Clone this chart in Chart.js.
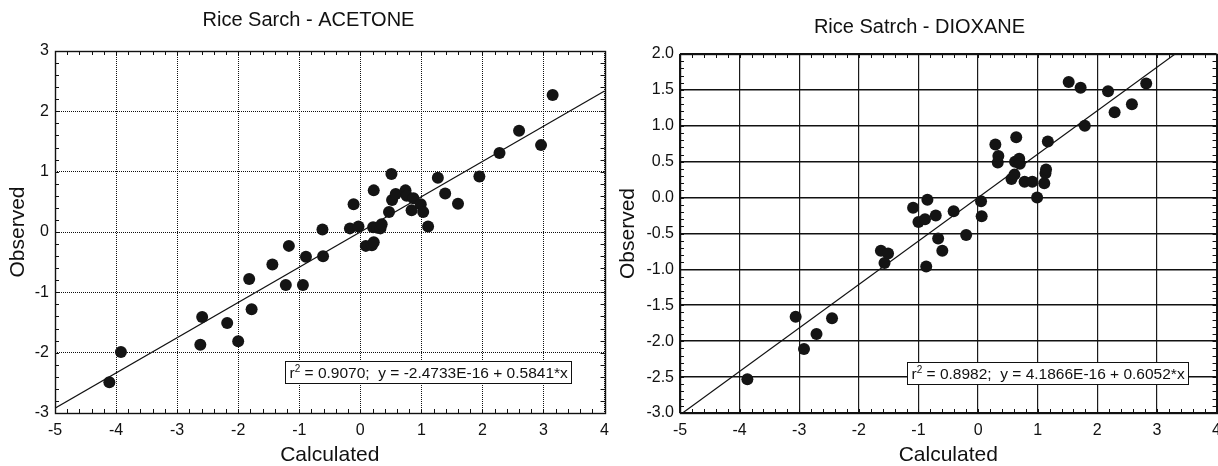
<!DOCTYPE html>
<html><head><meta charset="utf-8">
<script src="https://cdn.jsdelivr.net/npm/chart.js@4.4.1/dist/chart.umd.min.js"></script>
<style>
html,body{margin:0;padding:0;background:#fff;overflow:hidden;width:1218px;height:466px;}
#c1{position:absolute;left:0;top:0;}
#c2{position:absolute;left:610px;top:0;}
</style></head><body>
<canvas id="c1" width="617" height="466"></canvas>
<canvas id="c2" width="619" height="466"></canvas>
<script>
// ---------- Data: ACETONE ----------
const acetoneTitle = 'Rice Sarch - ACETONE';
const acetoneCalc = [-4.11,-3.92,-2.62,-2.59,-2.18,-2.00,-1.82,-1.78,-1.44,-1.22,-1.17,-0.94,-0.89,-0.62,-0.61,
  -0.17,-0.11,-0.03,0.09,0.19,0.22,0.21,0.22,0.28,0.33,0.35,0.47,0.51,0.52,0.58,0.74,0.76,0.84,0.87,0.99,1.03,1.11,
  1.27,1.39,1.60,1.95,2.28,2.60,2.96,3.15];
const acetoneObs = [-2.49,-1.99,-1.87,-1.41,-1.51,-1.81,-0.78,-1.28,-0.54,-0.88,-0.23,-0.88,-0.41,0.04,-0.40,
  0.06,0.46,0.09,-0.23,-0.22,-0.17,0.08,0.69,0.07,0.06,0.13,0.33,0.96,0.53,0.63,0.69,0.60,0.36,0.56,0.46,0.33,0.09,
  0.90,0.64,0.47,0.92,1.31,1.68,1.44,2.27];
const acetoneFitX = [-5, 4];
const acetoneFitY = [-2.9205, 2.3364];
const acetoneNote = ['r', '2', ' = 0.9070;  y = -2.4733E-16 + 0.5841*x'];
const acetoneXTicks = [-5,-4,-3,-2,-1,0,1,2,3,4];
const acetoneYTicks = [-3,-2,-1,0,1,2,3];
const acetoneYLabels = ['-3','-2','-1','0','1','2','3'];

// ---------- Data: DIOXANE ----------
const dioxaneTitle = 'Rice Satrch - DIOXANE';
const dioxaneCalc = [-3.87,-3.06,-2.92,-2.71,-2.45,-1.63,-1.57,-1.51,-1.09,-1.00,-0.89,-0.85,-0.87,-0.71,-0.67,-0.60,
  -0.41,-0.20,0.05,0.06,0.29,0.34,0.33,0.56,0.61,0.64,0.62,0.69,0.70,0.78,0.91,0.99,1.11,1.13,1.14,1.17,
  1.52,1.72,1.79,2.18,2.29,2.58,2.82];
const dioxaneObs = [-2.53,-1.66,-2.11,-1.90,-1.68,-0.74,-0.91,-0.78,-0.14,-0.34,-0.30,-0.03,-0.96,-0.25,-0.57,-0.74,
  -0.19,-0.52,-0.05,-0.26,0.74,0.58,0.49,0.26,0.32,0.84,0.50,0.54,0.47,0.22,0.22,0.00,0.20,0.34,0.39,0.78,
  1.61,1.53,1.00,1.48,1.19,1.30,1.59];
const dioxaneFitX = [-5, 4];
const dioxaneFitY = [-3.026, 2.4208];
const dioxaneNote = ['r', '2', ' = 0.8982;  y = 4.1866E-16 + 0.6052*x'];
const dioxaneXTicks = [-5,-4,-3,-2,-1,0,1,2,3,4];
const dioxaneYTicks = [-3,-2.5,-2,-1.5,-1,-0.5,0,0.5,1,1.5,2];
const dioxaneYLabels = ['-3.0','-2.5','-2.0','-1.5','-1.0','-0.5','0.0','0.5','1.0','1.5','2.0'];

const FONT = "'Liberation Sans', Arial, Helvetica, sans-serif";

const decorPlugin = {
  id: 'decor',
  afterDraw(chart) {
    const o = chart.options.plugins.decor;
    const {ctx, chartArea: a} = chart;
    const xs = chart.scales.x, ys = chart.scales.y;
    ctx.save();
    ctx.strokeStyle = '#111';
    ctx.lineWidth = 1;
    ctx.beginPath();
    const nx = Math.round((xs.max - xs.min) / o.minorX);
    for (let i = 0; i <= nx; i++) {
      const px = Math.round(xs.getPixelForValue(xs.min + i * o.minorX)) + 0.5;
      ctx.moveTo(px, a.bottom); ctx.lineTo(px, a.bottom - 4);
      ctx.moveTo(px, a.top); ctx.lineTo(px, a.top + 4);
    }
    const ny = Math.round((ys.max - ys.min) / o.minorY);
    for (let i = 0; i <= ny; i++) {
      const py = Math.round(ys.getPixelForValue(ys.min + i * o.minorY)) + 0.5;
      ctx.moveTo(a.left, py); ctx.lineTo(a.left + 4, py);
      ctx.moveTo(a.right, py); ctx.lineTo(a.right - 4, py);
    }
    ctx.stroke();
    ctx.lineWidth = 1.4;
    ctx.strokeStyle = '#111';
    ctx.strokeRect(Math.round(a.left) + 0.5, Math.round(a.top) + 0.5, Math.round(a.right - a.left), Math.round(a.bottom - a.top));
    const note = o.note;
    const f1 = '15.5px ' + FONT, f2 = '10px ' + FONT;
    ctx.font = f1; const w0 = ctx.measureText(note[0]).width; const w2 = ctx.measureText(note[2]).width;
    ctx.font = f2; const w1 = ctx.measureText(note[1]).width;
    const padX = 4, h = o.boxH;
    const bw = Math.round(w0 + w1 + w2 + padX * 2);
    const bx = Math.round(a.right - o.boxRight - bw) + 0.5;
    const by = Math.round(a.bottom - o.boxBottom - h) + 0.5;
    ctx.fillStyle = '#fff';
    ctx.fillRect(bx, by, bw, h);
    ctx.lineWidth = 1;
    ctx.strokeStyle = '#111';
    ctx.strokeRect(bx, by, bw, h);
    ctx.fillStyle = '#111';
    ctx.textBaseline = 'alphabetic';
    const base = by + h / 2 + 5.5;
    ctx.font = f1; ctx.fillText(note[0], bx + padX, base);
    ctx.font = f2; ctx.fillText(note[1], bx + padX + w0, base - 6.5);
    ctx.font = f1; ctx.fillText(note[2], bx + padX + w0 + w1, base);
    ctx.restore();
  }
};

function makeChart(id, c) {
  const pts = c.calc.map((v, i) => ({x: v, y: c.obs[i]}));
  const fit = c.fitX.map((v, i) => ({x: v, y: c.fitY[i]}));
  return new Chart(document.getElementById(id), {
    type: 'scatter',
    data: {
      datasets: [
        {type: 'line', data: fit, borderColor: '#111', borderWidth: 1.2, pointRadius: 0, fill: false, order: 2},
        {data: pts, pointRadius: 6, pointHoverRadius: 6, backgroundColor: '#141414', borderColor: '#141414', borderWidth: 0, order: 1}
      ]
    },
    plugins: [decorPlugin],
    options: {
      responsive: false, animation: false, devicePixelRatio: 1,
      layout: {padding: {left: 0, right: 0, top: 0, bottom: 0}},
      events: [],
      plugins: {
        legend: {display: false}, tooltip: {enabled: false},
        title: {display: true, text: c.title, color: '#111', font: {family: FONT, size: 20, weight: 'normal', lineHeight: 1.2},
                padding: {top: c.titleTop, bottom: c.titleBottom}},
        decor: {minorX: c.minorX, minorY: c.minorY, note: c.note, boxRight: c.boxRight, boxBottom: c.boxBottom, boxH: 22}
      },
      scales: {
        x: {
          type: 'linear', min: -5, max: 4,
          afterBuildTicks: s => { s.ticks = c.xTicks.map(v => ({value: v})); },
          afterFit: s => { s.height = 53; },
          ticks: {color: '#111', font: {family: FONT, size: 16}, padding: 8, maxRotation: 0, autoSkip: false},
          grid: {color: c.xGridColor, lineWidth: c.xGridWidth, drawTicks: false},
          border: {display: false, dash: c.xDash},
          title: {display: true, text: 'Calculated', color: '#111', font: {family: FONT, size: 21, lineHeight: 1}, padding: {top: 0, bottom: 0}}
        },
        y: {
          type: 'linear', min: c.yTicks[0], max: c.yTicks[c.yTicks.length - 1],
          afterBuildTicks: s => { s.ticks = c.yTicks.map(v => ({value: v})); },
          afterFit: s => { s.width = c.yWidth; },
          ticks: {color: '#111', font: {family: FONT, size: 16}, padding: 6, autoSkip: false,
                  callback: (v) => { const k = c.yTicks.indexOf(v); return k >= 0 ? c.yLabels[k] : ''; }},
          grid: {color: c.yGridColor, lineWidth: c.yGridWidth, drawTicks: false},
          border: {display: false, dash: c.yDash},
          title: {display: true, text: 'Observed', color: '#111', font: {family: FONT, size: 21, lineHeight: 1}, padding: {top: 7.5, bottom: 0}}
        }
      }
    }
  });
}

makeChart('c1', {
  title: acetoneTitle, calc: acetoneCalc, obs: acetoneObs, fitX: acetoneFitX, fitY: acetoneFitY, note: acetoneNote,
  xTicks: acetoneXTicks, yTicks: acetoneYTicks, yLabels: acetoneYLabels,
  titleTop: 8, titleBottom: 19, yWidth: 55, minorX: 0.2, minorY: 0.2,
  xGridColor: '#111', xGridWidth: 1, xDash: [1, 1], yGridColor: '#111', yGridWidth: 1, yDash: [1, 1],
  boxRight: 34, boxBottom: 30
});
makeChart('c2', {
  title: dioxaneTitle, calc: dioxaneCalc, obs: dioxaneObs, fitX: dioxaneFitX, fitY: dioxaneFitY, note: dioxaneNote,
  xTicks: dioxaneXTicks, yTicks: dioxaneYTicks, yLabels: dioxaneYLabels,
  titleTop: 15, titleBottom: 15, yWidth: 70, minorX: 0.2, minorY: 0.1,
  xGridColor: '#1a1a1a', xGridWidth: 1.2, xDash: [], yGridColor: '#111', yGridWidth: 1.6, yDash: [],
  boxRight: 29, boxBottom: 29
});
</script>
</body></html>
